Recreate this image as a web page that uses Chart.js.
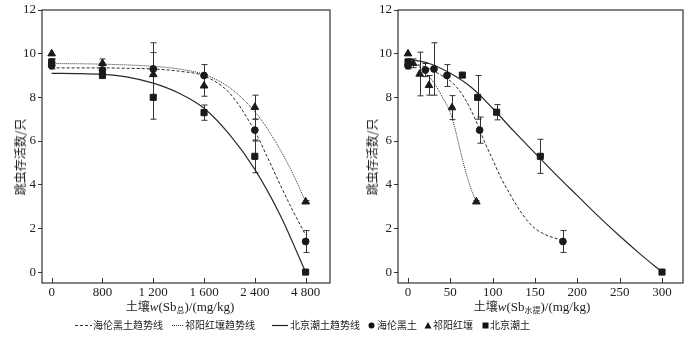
<!DOCTYPE html>
<html><head><meta charset="utf-8">
<script src="https://cdn.jsdelivr.net/npm/chart.js@4"></script>
<style>
body{margin:0;background:#fff;}
#wrap{position:relative;width:700px;height:339px;overflow:hidden;font-family:'Liberation Serif',serif;color:#222;background:#fff;}
.cv{position:absolute;top:0;width:350px;height:312px;}
.xt{position:absolute;top:298px;font-size:13px;line-height:15px;white-space:nowrap;transform:translateX(-50%);}
.xt .cj{font-family:'Noto Sans CJK SC';font-size:12px;}
.xt sub{font-family:'Noto Sans CJK SC';font-size:8px;vertical-align:-2px;}
.yt{position:absolute;font-family:'Noto Sans CJK SC';font-size:12px;line-height:14px;transform:translate(-50%,-50%) rotate(-90deg);white-space:nowrap;}
.lg{position:absolute;top:318px;height:14px;line-height:14px;font-family:'Noto Sans CJK SC';font-size:10px;white-space:nowrap;}
.lg svg{position:absolute;top:0;}
</style>
</head><body>
<div id="wrap">
  <div class="cv" style="left:0"><canvas id="c1" width="350" height="312"></canvas></div>
  <div class="cv" style="left:350px"><canvas id="c2" width="350" height="312"></canvas></div>
  <div class="yt" style="left:20px;top:157px">跳虫存活数/只</div>
  <div class="yt" style="left:372px;top:157px">跳虫存活数/只</div>
  <div class="xt" style="left:180px"><span class="cj">土壤</span><i>w</i>(Sb<sub>总</sub>)/(mg/kg)</div>
  <div class="xt" style="left:532px"><span class="cj">土壤</span><i>w</i>(Sb<sub>水提</sub>)/(mg/kg)</div>
  <div class="lg" style="left:75px;width:90px"><svg width="17" height="14"><line x1="0" y1="7.5" x2="17" y2="7.5" stroke="#333" stroke-width="1" stroke-dasharray="3,2"/></svg><span style="position:absolute;left:18px">海伦黑土趋势线</span></div>
  <div class="lg" style="left:172px;width:95px"><svg width="11" height="14"><line x1="0" y1="7.5" x2="11" y2="7.5" stroke="#333" stroke-width="1" stroke-dasharray="1,1"/></svg><span style="position:absolute;left:13px">祁阳红壤趋势线</span></div>
  <div class="lg" style="left:272px;width:95px"><svg width="16" height="14"><line x1="0" y1="7.5" x2="16" y2="7.5" stroke="#222" stroke-width="1.2"/></svg><span style="position:absolute;left:18px">北京潮土趋势线</span></div>
  <div class="lg" style="left:368px;width:55px"><svg width="7" height="14"><circle cx="3.5" cy="7.5" r="3" fill="#111"/></svg><span style="position:absolute;left:9px">海伦黑土</span></div>
  <div class="lg" style="left:424px;width:55px"><svg width="8" height="14"><polygon points="4,4 7.5,10.5 0.5,10.5" fill="#111"/></svg><span style="position:absolute;left:9px">祁阳红壤</span></div>
  <div class="lg" style="left:482px;width:55px"><svg width="7" height="14"><rect x="0.5" y="4.5" width="6" height="6" fill="#111"/></svg><span style="position:absolute;left:8px">北京潮土</span></div>
</div>
<script>
// ---------- Data ----------
// Left panel: total Sb, categorical positions
const leftTickLabels = ['0', '800', '1 200', '1 600', '2 400', '4 800'];
const leftPos = [0, 1, 2, 3, 4, 5];
const leftHelunY   = [9.45, 9.25, 9.3, 9.0, 6.5, 1.4];
const leftHelunErr = [0.15, 0.2, 1.2, 0.5, 0.5, 0.5];
const leftQiyangY   = [10.0, 9.56, 9.05, 8.53, 7.55, 3.22];
const leftQiyangErr = [0, 0.2, 1.0, 0.48, 0.55, 0.05];
const leftBeijingY   = [9.62, 9.0, 8.0, 7.3, 5.3, 0];
const leftBeijingErr = [0.15, 0, 1.0, 0.35, 0.75, 0];
// left trend lines (position, value)
const leftHelunTrendX = [0, 0.5, 1, 1.5, 2, 2.5, 3, 3.5, 4, 4.25, 4.5, 4.75, 5];
const leftHelunTrendY = [9.35, 9.35, 9.35, 9.33, 9.3, 9.2, 8.98, 8.2, 6.45, 5.25, 4.0, 2.8, 1.7];
const leftQiyangTrendX = [0, 1, 2, 2.5, 3, 3.5, 4, 4.25, 4.5, 4.75, 5];
const leftQiyangTrendY = [9.55, 9.52, 9.42, 9.3, 9.05, 8.45, 7.35, 6.55, 5.6, 4.5, 3.22];
const leftBeijingTrendX = [0, 0.5, 1, 1.5, 2, 2.5, 3, 3.5, 4, 4.5, 5];
const leftBeijingTrendY = [9.1, 9.09, 9.05, 8.93, 8.65, 8.2, 7.5, 6.3, 4.7, 2.6, 0];

// Right panel: water-extractable Sb
const rightTicks = [0, 50, 100, 150, 200, 250, 300];
const rightHelunX = [0, 20.5, 30.7, 46, 84.6, 183];
const rightHelunY = [9.45, 9.25, 9.3, 9.0, 6.5, 1.4];
const rightHelunErr = [0.15, 0.3, 1.2, 0.5, 0.6, 0.5];
const rightQiyangX = [0, 6, 13.8, 24.8, 52, 80.7];
const rightQiyangY = [10.0, 9.56, 9.07, 8.55, 7.53, 3.22];
const rightQiyangErr = [0, 0.2, 1.0, 0.45, 0.55, 0.05];
const rightBeijingX = [0, 64.2, 82.3, 104.7, 156.3, 300];
const rightBeijingY = [9.62, 9.02, 8.0, 7.32, 5.3, 0];
const rightBeijingErr = [0.15, 0, 1.0, 0.35, 0.78, 0];
const rightHelunTrendX = [0, 20, 40, 50, 60, 70, 80, 90, 100, 110, 120, 130, 140, 150, 163, 181];
const rightHelunTrendY = [9.6, 9.4, 9.0, 8.75, 8.35, 7.75, 6.95, 6.0, 5.15, 4.3, 3.6, 2.95, 2.4, 2.0, 1.7, 1.47];
const rightQiyangTrendX = [0, 10, 20, 30, 40, 50, 55, 60, 65, 70, 75, 80.7];
const rightQiyangTrendY = [9.6, 9.48, 9.15, 8.7, 8.05, 7.3, 6.65, 5.85, 5.05, 4.35, 3.75, 3.22];
const rightBeijingTrendX = [0, 25, 50, 75, 100, 125, 150, 175, 200, 225, 250, 275, 300];
const rightBeijingTrendY = [9.75, 9.55, 9.1, 8.45, 7.5, 6.45, 5.45, 4.45, 3.5, 2.55, 1.65, 0.8, 0];

const yTicks = [0, 2, 4, 6, 8, 10, 12];

// ---------- helpers ----------
const zip = (xs, ys) => xs.map((x, i) => ({x, y: ys[i]}));
const INK = '#1a1a1a';
const LINE = '#2a2a2a';

function trend(xs, ys, dash, width) {
  return {data: zip(xs, ys), showLine: true, pointRadius: 0, borderColor: LINE,
    borderWidth: width, borderDash: dash, cubicInterpolationMode: 'monotone', fill: false, order: 2};
}
function marks(xs, ys, errs, style, r) {
  return {data: zip(xs, ys), errors: errs, showLine: false, pointStyle: style, pointRadius: r,
    backgroundColor: INK, borderColor: INK, borderWidth: 1, order: 1};
}

const framePlugin = {
  id: 'frameErr',
  beforeDatasetsDraw(chart) {
    const ctx = chart.ctx, xs = chart.scales.x, ys = chart.scales.y;
    ctx.save();
    ctx.strokeStyle = '#333'; ctx.lineWidth = 1;
    chart.data.datasets.forEach(ds => {
      if (!ds.errors) return;
      ds.data.forEach((p, i) => {
        const e = ds.errors[i];
        if (!e) return;
        const px = Math.round(xs.getPixelForValue(p.x)) + 0.5;
        const y1 = ys.getPixelForValue(p.y + e), y2 = ys.getPixelForValue(p.y - e);
        ctx.beginPath();
        ctx.moveTo(px, y1); ctx.lineTo(px, y2);
        ctx.moveTo(px - 3, y1); ctx.lineTo(px + 3, y1);
        ctx.moveTo(px - 3, y2); ctx.lineTo(px + 3, y2);
        ctx.stroke();
      });
    });
    ctx.restore();
  },
  afterDraw(chart) {
    const ctx = chart.ctx, a = chart.chartArea, xs = chart.scales.x;
    ctx.save();
    ctx.strokeStyle = '#333'; ctx.lineWidth = 1.2;
    ctx.strokeRect(a.left, a.top, a.right - a.left, a.bottom - a.top);
    ctx.lineWidth = 1;
    xs.ticks.forEach(t => {
      const px = Math.round(xs.getPixelForValue(t.value)) + 0.5;
      ctx.beginPath(); ctx.moveTo(px, a.bottom); ctx.lineTo(px, a.bottom - 5); ctx.stroke();
    });
    ctx.restore();
  }
};

function makeChart(id, datasets, xOpts, yWidth, padRight) {
  return new Chart(document.getElementById(id), {
    type: 'scatter',
    data: {datasets},
    plugins: [framePlugin],
    options: {
      responsive: false, animation: false, events: [],
      layout: {padding: {top: 10, right: padRight, left: 0, bottom: 0}},
      plugins: {legend: {display: false}, tooltip: {enabled: false}},
      scales: {
        x: Object.assign({
          type: 'linear',
          grid: {display: false, drawTicks: false},
          border: {display: false},
          ticks: {font: {family: 'Liberation Serif', size: 13}, color: '#222', padding: 2, maxRotation: 0},
          afterFit: s => { s.height = 29; }
        }, xOpts),
        y: {
          type: 'linear', min: -0.5, max: 12,
          afterBuildTicks: s => { s.ticks = yTicks.map(v => ({value: v})); },
          grid: {display: true, drawOnChartArea: false, drawTicks: true, tickLength: 4, color: '#333'},
          border: {display: false},
          ticks: {font: {family: 'Liberation Serif', size: 13}, color: '#222', padding: 2},
          afterFit: s => { s.width = yWidth; }
        }
      }
    }
  });
}

makeChart('c1', [
  trend(leftHelunTrendX, leftHelunTrendY, [3, 2], 1),
  trend(leftQiyangTrendX, leftQiyangTrendY, [1, 1], 1),
  trend(leftBeijingTrendX, leftBeijingTrendY, [], 1.2),
  marks(leftPos, leftHelunY, leftHelunErr, 'circle', 3.4),
  marks(leftPos, leftQiyangY, leftQiyangErr, 'triangle', 4.4),
  marks(leftPos, leftBeijingY, leftBeijingErr, 'rect', 4.3)
], {
  min: -0.19, max: 5.48,
  afterBuildTicks: s => { s.ticks = leftPos.map(v => ({value: v})); },
  ticks: {font: {family: 'Liberation Serif', size: 13}, color: '#222', padding: 2, maxRotation: 0,
    callback: v => leftTickLabels[leftPos.indexOf(v)]}
}, 42, 20);

makeChart('c2', [
  trend(rightHelunTrendX, rightHelunTrendY, [3, 2], 1),
  trend(rightQiyangTrendX, rightQiyangTrendY, [1, 1], 1),
  trend(rightBeijingTrendX, rightBeijingTrendY, [], 1.2),
  marks(rightHelunX, rightHelunY, rightHelunErr, 'circle', 3.4),
  marks(rightQiyangX, rightQiyangY, rightQiyangErr, 'triangle', 4.4),
  marks(rightBeijingX, rightBeijingY, rightBeijingErr, 'rect', 4.3)
], {
  min: -11.8, max: 324.8,
  afterBuildTicks: s => { s.ticks = rightTicks.map(v => ({value: v})); },
  ticks: {font: {family: 'Liberation Serif', size: 13}, color: '#222', padding: 2, maxRotation: 0,
    callback: v => String(v)}
}, 48, 17);
</script>
</body></html>
